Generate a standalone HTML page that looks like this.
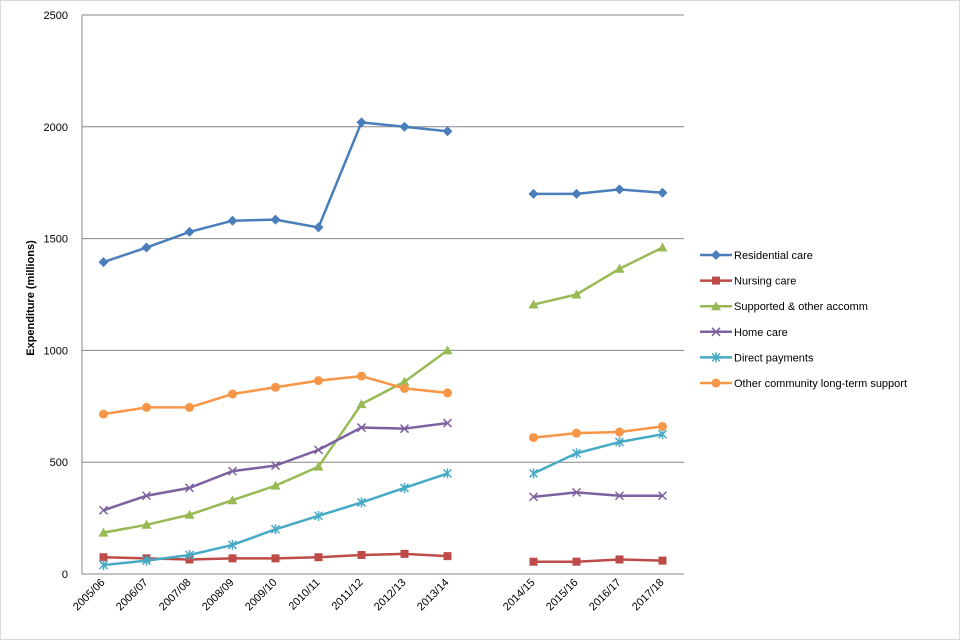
<!DOCTYPE html>
<html><head><meta charset="utf-8"><style>
body{margin:0;background:#fff;font-family:"Liberation Sans",sans-serif}
</style></head><body>
<svg id="chart" width="960" height="640" viewBox="0 0 960 640" xmlns="http://www.w3.org/2000/svg" style="display:block"></svg>
<script>
const categories=["2005/06","2006/07","2007/08","2008/09","2009/10","2010/11","2011/12","2012/13","2013/14","","2014/15","2015/16","2016/17","2017/18"];
const residential=[1395,1460,1530,1580,1585,1550,2020,2000,1980,null,1700,1700,1720,1705];
const nursing=[75,70,65,70,70,75,85,90,80,null,55,55,65,60];
const supported=[185,220,265,330,395,480,760,860,1000,null,1205,1250,1365,1460];
const homecare=[285,350,385,460,485,555,655,650,675,null,345,365,350,350];
const directPay=[40,60,85,130,200,260,320,385,450,null,450,540,590,625];
const otherCommunity=[715,745,745,805,835,865,885,830,810,null,610,630,635,660];
const yTicks=[0,500,1000,1500,2000,2500];
const seriesNames=["Residential care","Nursing care","Supported & other accomm","Home care","Direct payments","Other community long-term support"];

const svg=document.getElementById('chart');
const NS="http://www.w3.org/2000/svg";
const L=82,R=684,T=15,B=574;
const x=i=>L+(i+0.5)*(R-L)/categories.length;
const y=v=>B-v/2500*(B-T);
function mk(tag,attrs,parent){const e=document.createElementNS(NS,tag);for(const k in attrs)e.setAttribute(k,attrs[k]);(parent||svg).appendChild(e);return e;}

const border=mk('rect',{x:0.5,y:0.5,width:959,height:639,fill:'none',stroke:'#d9d9d9'});



yTicks.forEach(t=>{
  const g=mk('line',{x1:L,x2:R,y1:y(t),y2:y(t),stroke:'#868686','stroke-width':1});
  
  
  const tx=mk('text',{x:68,y:y(t)+4,'text-anchor':'end','font-size':11,fill:'#000'});
  tx.textContent=t;
  
  
});
const ax=mk('line',{x1:L,x2:L,y1:T,y2:B,stroke:'#868686'});


categories.forEach((c,i)=>{
  if(!c)return;
  const t=mk('text',{x:0,y:0,'text-anchor':'end','font-size':11,fill:'#000',transform:`translate(${x(i)+2},${B+9}) rotate(-45)`});
  t.textContent=c;
  
  
});
const yt=mk('text',{x:0,y:0,'text-anchor':'middle','font-size':11,'font-weight':'bold',transform:'translate(34,298) rotate(-90)'});
yt.textContent='Expenditure (millions)';



const colors=['#4a7ebb','#be4b48','#98b954','#7d60a0','#46aac4','#f79646'];
const allData=[residential,nursing,supported,homecare,directPay,otherCommunity];
const shapes=['diamond','square','triangle','x','star','circle'];
function marker(shape,cx,cy,col,parent){
  let e;
  if(shape==='diamond')e=mk('polygon',{points:`${cx},${cy-5} ${cx+5},${cy} ${cx},${cy+5} ${cx-5},${cy}`,fill:col},parent);
  else if(shape==='square')e=mk('rect',{x:cx-4,y:cy-4,width:8,height:8,fill:col},parent);
  else if(shape==='triangle')e=mk('polygon',{points:`${cx},${cy-5} ${cx+5},${cy+4} ${cx-5},${cy+4}`,fill:col},parent);
  else if(shape==='circle')e=mk('circle',{cx:cx,cy:cy,r:4.5,fill:col},parent);
  else if(shape==='x')e=mk('path',{d:`M${cx-4},${cy-4}L${cx+4},${cy+4}M${cx-4},${cy+4}L${cx+4},${cy-4}`,stroke:col,'stroke-width':1.5},parent);
  else e=mk('path',{d:`M${cx-4},${cy-4}L${cx+4},${cy+4}M${cx-4},${cy+4}L${cx+4},${cy-4}M${cx},${cy-5}L${cx},${cy+5}`,stroke:col,'stroke-width':1.5},parent);
  return e;
}
allData.forEach((data,s)=>{
  const g=mk('g',{});
  
  
  let d='',pen=false;
  data.forEach((v,i)=>{if(v===null){pen=false;return;}d+=(pen?'L':'M')+x(i)+','+y(v);pen=true;});
  const p=mk('path',{d:d,fill:'none',stroke:colors[s],'stroke-width':2.5},g);
  
  
  data.forEach((v,i)=>{if(v===null)return;
    const m=marker(shapes[s],x(i),y(v),colors[s],g);
    
    
  });
  const ly=255+s*25.6;
  const lg=mk('g',{},svg);
  
  
  mk('line',{x1:700,x2:732,y1:ly,y2:ly,stroke:colors[s],'stroke-width':2.5},lg);
  marker(shapes[s],716,ly,colors[s],lg);
  const lt=mk('text',{x:734,y:ly+4,'font-size':11,fill:'#000'},lg);
  lt.textContent=seriesNames[s];
});
</script>
</body></html>
